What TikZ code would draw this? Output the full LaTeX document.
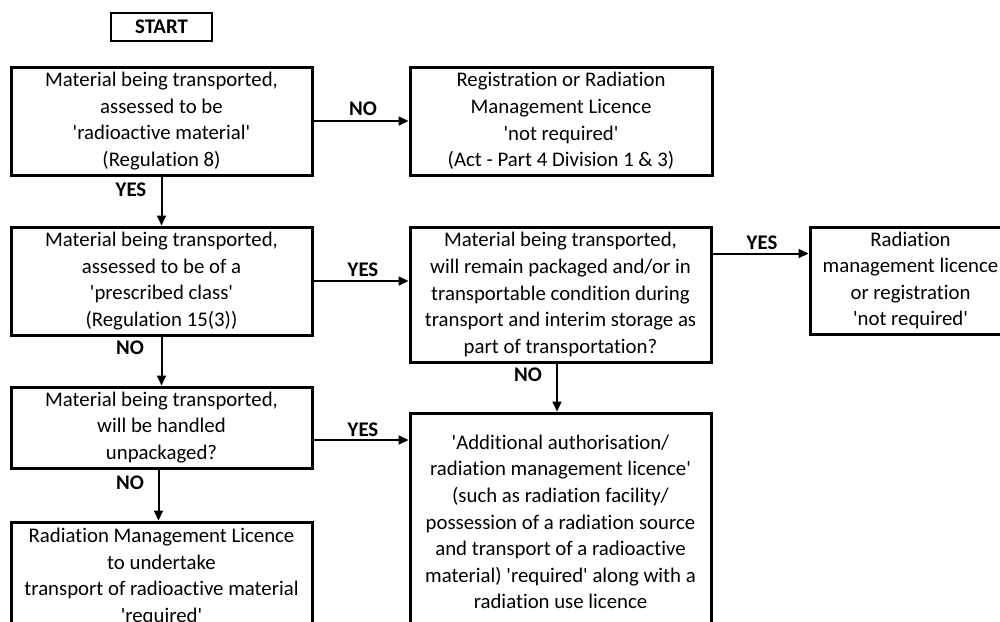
\documentclass[tikz,border=0pt]{standalone}
\usepackage{fontspec}
\setmainfont{Carlito}[Ligatures=CommonOff]
\usetikzlibrary{arrows.meta}
\newcommand{\myq}{\textquotesingle}
\begin{document}
\begin{tikzpicture}[x=1pt,y=-1pt,
  txt/.style={font=\fontsize{20.8}{26.6}\selectfont},
  box/.style={txt, draw, line width=3pt, align=center, inner sep=0pt},
  arr/.style={line width=2pt, -{Triangle[length=10pt,width=9pt]}},
  lbl/.style={font=\fontsize{20.8}{26.6}\selectfont\bfseries, inner sep=0pt}]
\useasboundingbox (0,0) rectangle (1000,621);
\clip (0,0) rectangle (1000,621);
\fill[white] (0,0) rectangle (1000,621);

\node[box, line width=2.4pt, minimum width=101pt, minimum height=28pt, font=\fontsize{20.8}{26.6}\selectfont\bfseries] (start) at (161.5,27) {START};

\node[box, minimum width=301pt, minimum height=108pt] (b1) at (161.5,121)
  {Material being transported,\\assessed to be\\\myq radioactive material\myq\\(Regulation 8)};
\node[box, minimum width=302pt, minimum height=108pt] (b2) at (561,121)
  {Registration or Radiation\\Management Licence\\\myq not required\myq\\(Act - Part 4 Division 1 \& 3)};
\node[box, minimum width=301pt, minimum height=108pt] (b3) at (161.5,281)
  {Material being transported,\\assessed to be of a\\\myq prescribed class\myq\\(Regulation 15(3))};
\node[box, minimum width=301pt, minimum height=135pt] (b4) at (560.5,294.5)
  {Material being transported,\\will remain packaged and/or in\\transportable condition during\\transport and interim storage as\\part of transportation?};
\node[box, minimum width=201pt, minimum height=107pt] (b5r) at (910.5,280.5)
  {Radiation\\management licence\\or registration\\\myq not required\myq};
\node[box, minimum width=301pt, minimum height=81pt] (b5l) at (161.5,427.5)
  {Material being transported,\\will be handled\\unpackaged?};
\node[box, minimum width=301pt, minimum height=218pt] (b6) at (560.5,522)
  {\myq Additional authorisation/\\radiation management licence\myq\\(such as radiation facility/\\possession of a radiation source\\and transport of a radioactive\\material) \myq required\myq\ along with a\\radiation use licence};
\node[box, minimum width=301pt, minimum height=110pt] (b7) at (161.5,577)
  {Radiation Management Licence\\to undertake\\transport of radioactive material\\\myq required\myq};

\draw[arr] (b1.east) -- (b2.west);
\draw[arr] (b1.south) -- (b3.north);
\draw[arr] (b3.east) -- (b3.east -| b4.west);
\draw[arr] (b3.south) -- (b5l.north);
\draw[arr] ([yshift=-28pt]b4.north east) -- ([yshift=-28pt]b4.north east -| b5r.west);
\draw[arr] ([xshift=-3.5pt]b4.south) -- ([xshift=-3.5pt]b4.south |- b6.north);
\draw[arr] ([yshift=-12.5pt]b5l.east) -- ([yshift=-12.5pt]b5l.east -| b6.west);
\draw[arr] ([xshift=-3pt]b5l.south) -- ([xshift=-3pt]b5l.south |- b7.north);

\node[lbl] (l1) at (363,109) {NO};
\node[lbl] (l2) at (131,190) {YES};
\node[lbl] (l3) at (363,270) {YES};
\node[lbl] (l4) at (130,348) {NO};
\node[lbl] (l5) at (762,243) {YES};
\node[lbl] (l6) at (528,375) {NO};
\node[lbl] (l7) at (363,430) {YES};
\node[lbl] (l8) at (130,483) {NO};
\end{tikzpicture}
\end{document}
